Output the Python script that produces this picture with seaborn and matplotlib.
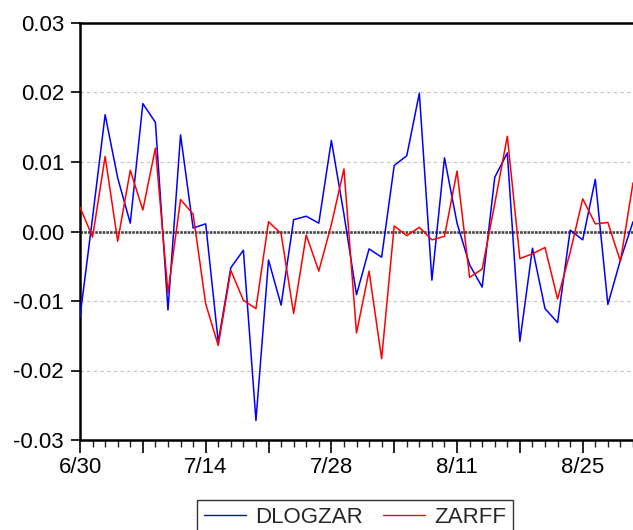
import matplotlib
matplotlib.use("Agg")
import matplotlib.pyplot as plt
import seaborn as sns
import pandas as pd
import numpy as np
from matplotlib.ticker import FixedLocator, MultipleLocator, FixedFormatter

# ---- data ----
tick_labels = ["6/30", "7/14", "7/28", "8/11", "8/25"]
tick_positions = [0, 10, 20, 30, 40]

dlogzar = [-0.0123, 0.0020, 0.0168, 0.0077, 0.0012, 0.0184, 0.0157, -0.0113, 0.0139, 0.0005,
           0.0011, -0.0159, -0.0052, -0.0027, -0.0272, -0.0041, -0.0106, 0.0017, 0.0022, 0.0012,
           0.0131, 0.0025, -0.0091, -0.0025, -0.0037, 0.0095, 0.0109, 0.0199, -0.0070, 0.0106,
           0.0012, -0.0048, -0.0080, 0.0078, 0.0113, -0.0158, -0.0024, -0.0111, -0.0131, 0.0002,
           -0.0012, 0.0075, -0.0105, -0.0041, 0.0014]
zarff = [0.0035, -0.0008, 0.0108, -0.0014, 0.0088, 0.0031, 0.0120, -0.0088, 0.0046, 0.0025,
         -0.0104, -0.0164, -0.0056, -0.0099, -0.0111, 0.0014, -0.0003, -0.0118, -0.0005, -0.0057,
         0.0010, 0.0090, -0.0146, -0.0057, -0.0183, 0.0008, -0.0006, 0.0006, -0.0012, -0.0007,
         0.0087, -0.0066, -0.0054, 0.0040, 0.0137, -0.0039, -0.0032, -0.0023, -0.0097, -0.0030,
         0.0047, 0.0011, 0.0013, -0.0043, 0.0070]
y_ticks = [-0.03, -0.02, -0.01, 0.00, 0.01, 0.02, 0.03]
y_labels = ["-0.03", "-0.02", "-0.01", "0.00", "0.01", "0.02", "0.03"]

n = len(dlogzar)
df = pd.DataFrame({
    "t": list(range(n)) * 2,
    "value": dlogzar + zarff,
    "series": ["DLOGZAR"] * n + ["ZARFF"] * n,
})

sns.set_style("white")
plt.rcParams["font.family"] = ["Liberation Sans", "DejaVu Sans"]
plt.rcParams["axes.unicode_minus"] = False

fig = plt.figure(figsize=(6.33, 5.30), dpi=100)
ax = fig.add_axes([80 / 633, 1 - 440 / 530, 1 - 80 / 633, (440 - 23) / 530])

# grid lines
for yv in [-0.02, -0.01, 0.01, 0.02]:
    ax.axhline(yv, color="#c4c4c4", lw=0.8, ls=(0, (3, 3)), zorder=0)
ax.axhline(0.0, color="#454545", lw=1.9, ls=(0, (1, 0.4)), zorder=1)

sns.lineplot(data=df, x="t", y="value", hue="series",
             palette={"DLOGZAR": "#0000ff", "ZARFF": "#ff0000"},
             linewidth=1.1, ax=ax, legend=True, zorder=3)

ax.set_xlim(0, n - 1)
ax.set_ylim(-0.03, 0.03)
ax.set_xlabel("")
ax.set_ylabel("")

ax.yaxis.set_major_locator(FixedLocator(y_ticks))
ax.yaxis.set_major_formatter(FixedFormatter(y_labels))
ax.xaxis.set_major_locator(FixedLocator(list(range(0, n, 5))))
ax.xaxis.set_minor_locator(MultipleLocator(1))
major_labels = []
for p in range(0, n, 5):
    major_labels.append(tick_labels[tick_positions.index(p)] if p in tick_positions else "")
ax.xaxis.set_major_formatter(FixedFormatter(major_labels))

ax.tick_params(axis="y", which="major", direction="out", length=6.5, width=1.2,
               labelsize=16, pad=5, left=True, colors="black")
ax.tick_params(axis="x", which="major", direction="out", length=9, width=1.2,
               labelsize=16, pad=3, bottom=True, colors="black")
ax.tick_params(axis="x", which="minor", direction="out", length=5, width=1.0, bottom=True)

for s in ["left", "top", "bottom"]:
    ax.spines[s].set_visible(True)
    ax.spines[s].set_color("black")
    ax.spines[s].set_linewidth(1.8)
ax.spines["right"].set_visible(False)

handles, labels = ax.get_legend_handles_labels()
ax.legend_.remove()
leg = fig.legend(handles, labels, loc="upper center", bbox_to_anchor=(355 / 633, 1 - 500 / 530),
                 ncol=2, fontsize=16, frameon=True, fancybox=False, edgecolor="black",
                 handlelength=1.9, handletextpad=0.4, columnspacing=0.9, borderpad=0.3,
                 borderaxespad=0)
leg.get_frame().set_linewidth(1.0)
for h in leg.get_lines():
    h.set_linewidth(1.0)

fig.savefig("out.png", dpi=100)
